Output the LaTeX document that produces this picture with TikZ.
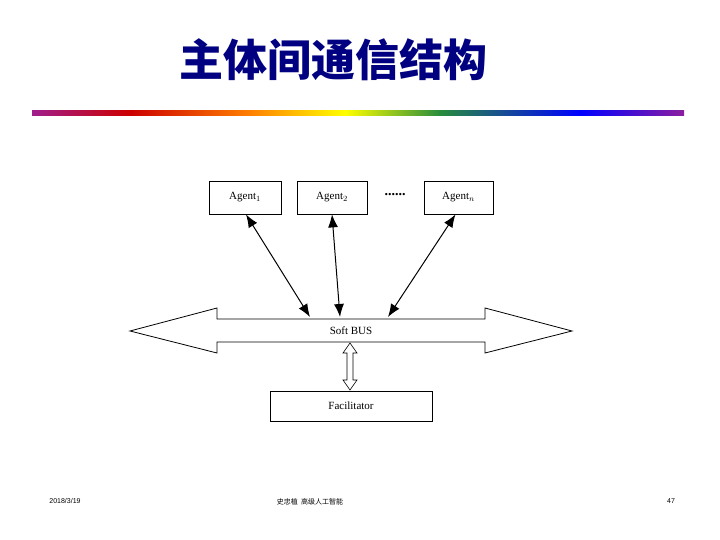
\documentclass[tikz,border=0pt]{standalone}
\usepackage{fontspec}
\setmainfont{Liberation Serif}
\newfontfamily\cjk{Noto Sans CJK SC}
\newfontfamily\sans{Liberation Sans}
\usetikzlibrary{arrows.meta}
\begin{document}
\begin{tikzpicture}[x=1pt,y=-1pt,
  box/.style={draw,line width=0.8pt,inner sep=0},
  lbl/.style={font=\fontsize{11}{13}\selectfont},
  conn/.style={line width=1pt,{Latex[length=13pt,width=10pt]}-{Latex[length=13pt,width=10pt]}},
  foot/.style={font=\sans\fontsize{7}{8}\selectfont}]
\useasboundingbox (0,0) rectangle (720,540);
\node[font=\cjk\bfseries\fontsize{44}{50}\selectfont,text={rgb,255:red,0;green,0;blue,128}] (title) at (333,60) {主体间通信结构};
% rainbow bar
\shade[left color={rgb,255:red,160;green,30;blue,140}, right color=red!80!black] (32,111) rectangle (130,116);
\shade[left color=red!80!black, right color=orange] (130,111) rectangle (250,116);
\shade[left color=orange, right color=yellow] (250,111) rectangle (345,116);
\shade[left color=yellow, right color={rgb,255:red,40;green,140;blue,60}] (345,111) rectangle (440,116);
\shade[left color={rgb,255:red,40;green,140;blue,60}, right color=blue] (440,111) rectangle (580,116);
\shade[left color=blue, right color={rgb,255:red,140;green,30;blue,160}] (580,111) rectangle (684,116);
% agents
\node[box,minimum width=72,minimum height=33] (a1) at (245,197.5) {};
\node[lbl] (t1) at (a1) {Agent$_1$};
\node[box,minimum width=70,minimum height=33] (a2) at (332,197.5) {};
\node[lbl] (t2) at (a2) {Agent$_2$};
\node[box,minimum width=69,minimum height=33] (an) at (458.5,197.5) {};
\node[lbl] (tn) at (an) {Agent$_n$};
\node[font=\bfseries\fontsize{14}{14}\selectfont] (dots) at (395,195) {......};
% bus
\draw[line width=0.8pt,fill=white] (130,331) -- (217,308) -- (217,319) -- (485,319) -- (485,308) -- (572,331) -- (485,353) -- (485,342) -- (217,342) -- (217,353) -- cycle;
\coordinate (b1) at (310,317);
\coordinate (b2) at (340,317);
\coordinate (bn) at (388,317);
\node[lbl] (bus) at (351,331) {Soft BUS};
\draw[conn] (a1.south) ++(1,0) coordinate (s1) (s1) -- (b1);
\draw[conn] (a2.south) -- (b2);
\draw[conn] (an.south) ++(-3,0) coordinate (sn) (sn) -- (bn);
% facilitator
\node[box,minimum width=162,minimum height=30] (fac) at (351,406) {};
\node[lbl] (ft) at (fac) {Facilitator};
\draw[line width=0.6pt,fill=white] (350,343) -- (357,353) -- (353,353) -- (353,380) -- (357,380) -- (350,390) -- (343,380) -- (347,380) -- (347,353) -- (343,353) -- cycle;
% footer
\node[foot] (date) at (65,501) {2018/3/19};
\node[foot,font=\cjk\fontsize{7}{8}\selectfont] (auth) at (310,502) {史忠植\ \ 高级人工智能};
\node[foot] (pg) at (671,501) {47};
\end{tikzpicture}
\end{document}
